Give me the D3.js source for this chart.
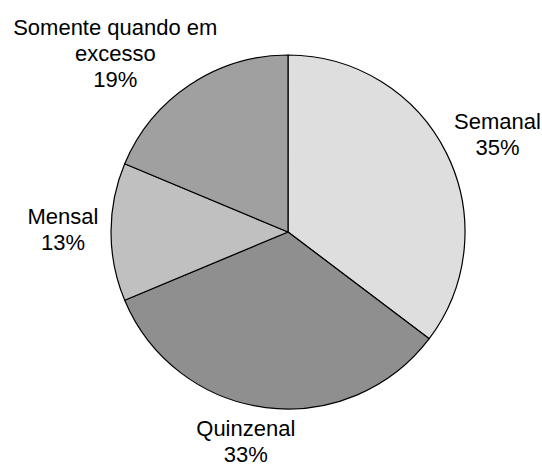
<!DOCTYPE html>
<html>
<head>
<meta charset="utf-8">
<script src="https://cdn.jsdelivr.net/npm/d3@7"></script>
<style>
  html, body { margin: 0; padding: 0; background: #fff; }
  svg { display: block; }
</style>
</head>
<body>
<div id="main"></div>
<script>
// data
const categories = ['Semanal', 'Quinzenal', 'Mensal', 'Somente quando em excesso'];
const values = [35.3, 33.4, 12.6, 18.7];
const percentLabels = ['35%', '33%', '13%', '19%'];
// label lines (wrapped like the original)
const labelLines = [['Semanal'], ['Quinzenal'], ['Mensal'], ['Somente quando em', 'excesso']];

const colors = ['#dedede', '#8f8f8f', '#c0c0c0', '#a0a0a0'];

const width = 542, height = 466;
const cx = 288, cy = 232, radius = 177;
const labelRadius = 225;
const lineH = 26;
// small label nudges (layout only)
const labelNudge = [[8, 3], [-14, -13], [0, -2], [-48, 9]];

const svg = d3.select('#main').append('svg')
    .attr('width', width)
    .attr('height', height);

const g = svg.append('g').attr('transform', `translate(${cx},${cy})`);

const pie = d3.pie().sort(null).value(d => d.value);
const arcs = pie(categories.map((c, i) => ({ name: c, value: values[i], i: i })));

const arc = d3.arc().innerRadius(0).outerRadius(radius);
const labelArc = d3.arc().innerRadius(labelRadius).outerRadius(labelRadius);

g.selectAll('path.slice')
    .data(arcs)
    .enter()
    .append('path')
    .attr('class', 'slice')
    .attr('d', arc)
    .attr('fill', d => colors[d.data.i])
    .attr('stroke', '#000')
    .attr('stroke-width', 1.2)
    .attr('stroke-linejoin', 'round');

const labels = g.selectAll('text.lbl')
    .data(arcs)
    .enter()
    .append('text')
    .attr('class', 'lbl')
    .attr('text-anchor', 'middle')
    .attr('font-family', '"Liberation Sans", Arial, sans-serif')
    .attr('font-size', 22)
    .attr('fill', '#000')
    .attr('transform', d => {
        const c = labelArc.centroid(d);
        const n = labelNudge[d.data.i];
        return `translate(${c[0] + n[0]},${c[1] + n[1]})`;
    });

labels.each(function (d) {
    const lines = labelLines[d.data.i].concat([percentLabels[d.data.i]]);
    const t = d3.select(this);
    const y0 = -(lines.length - 1) * lineH / 2 + 7;
    lines.forEach((s, k) => {
        t.append('tspan')
            .attr('x', 0)
            .attr('y', y0 + k * lineH)
            .text(s);
    });
});
</script>
</body>
</html>
